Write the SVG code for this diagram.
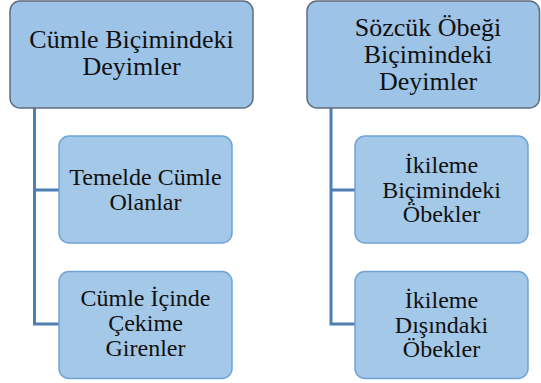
<svg xmlns="http://www.w3.org/2000/svg" width="541" height="383" viewBox="0 0 541 383" xml:lang="tr">
  <style>
    .head { fill: #9dc3e6; stroke: #5f6e7e; stroke-width: 1.5; }
    .item { fill: #a4c8e8; stroke: #6fa3d8; stroke-width: 1.5; }
    .link { fill: none; stroke: #4f7eb3; stroke-width: 3; }
    .h, .t { font-family: "Liberation Serif", "Times New Roman", serif; fill: #111111; text-anchor: middle; }
    .h { font-size: 26px; }
    .t { font-size: 24px; }
  </style>
  <rect width="541" height="383" fill="#ffffff"/>

  <!-- tree connectors: one trunk per column, one branch per child -->
  <g id="connectors">
    <path class="link" d="M34.5 108 V324 M33 190 H59 M33 324 H59"/>
    <path class="link" d="M331 108 V324 M329.5 190 H355 M329.5 324 H355"/>
  </g>

  <g id="cumle-bicimindeki">
    <rect class="head" x="10" y="1" width="243" height="107" rx="10"/>
    <text class="h" x="131.5" y="48">C&#252;mle Bi&#231;imindeki</text>
    <text class="h" x="131.5" y="75">Deyimler</text>
  </g>

  <g id="sozcuk-obegi">
    <rect class="head" x="307" y="1" width="232.5" height="107" rx="10"/>
    <text class="h" x="428" y="35.5">S&#246;zc&#252;k &#214;be&#287;i</text>
    <text class="h" x="428" y="62.5">Bi&#231;imindeki</text>
    <text class="h" x="428" y="89.5">Deyimler</text>
  </g>

  <g id="temelde-cumle">
    <rect class="item" x="59" y="136" width="173" height="107" rx="10"/>
    <text class="t" x="145.5" y="185">Temelde C&#252;mle</text>
    <text class="t" x="145.5" y="210">Olanlar</text>
  </g>

  <g id="cumle-icinde">
    <rect class="item" x="59" y="271.5" width="173" height="107" rx="10"/>
    <text class="t" x="145.5" y="306">C&#252;mle &#304;&#231;inde</text>
    <text class="t" x="145.5" y="331">&#199;ekime</text>
    <text class="t" x="145.5" y="356">Girenler</text>
  </g>

  <g id="ikileme-bicimindeki">
    <rect class="item" x="355" y="136" width="173" height="107" rx="10"/>
    <text class="t" x="441.5" y="173">&#304;kileme</text>
    <text class="t" x="441.5" y="197.5">Bi&#231;imindeki</text>
    <text class="t" x="441.5" y="222">&#214;bekler</text>
  </g>

  <g id="ikileme-disindaki">
    <rect class="item" x="355" y="271.5" width="173" height="107" rx="10"/>
    <text class="t" x="441.5" y="308">&#304;kileme</text>
    <text class="t" x="441.5" y="332.5">D&#305;&#351;&#305;ndaki</text>
    <text class="t" x="441.5" y="356.5">&#214;bekler</text>
  </g>
</svg>
